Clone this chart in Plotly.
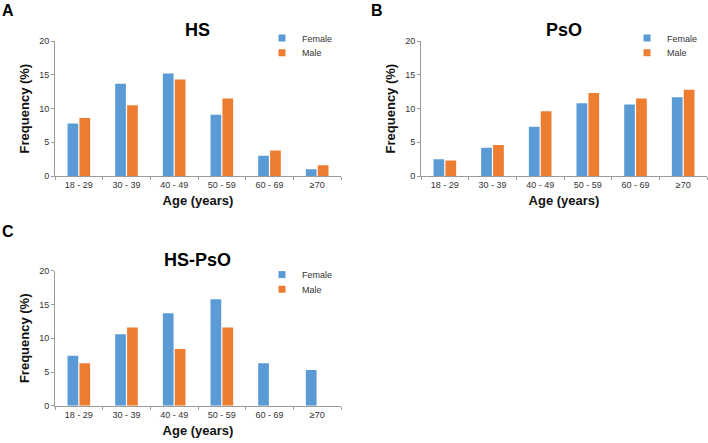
import plotly.graph_objects as go

categories = ["18 - 29", "30 - 39", "40 - 49", "50 - 59", "60 - 69", "≥70"]
hs_female = [7.8, 13.7, 15.2, 9.1, 3.0, 1.0]
hs_male = [8.6, 10.5, 14.3, 11.5, 3.8, 1.6]
pso_female = [2.5, 4.2, 7.3, 10.8, 10.6, 11.7]
pso_male = [2.3, 4.6, 9.6, 12.3, 11.5, 12.8]
hspso_female = [7.4, 10.6, 13.7, 15.8, 6.3, 5.3]
hspso_male = [6.3, 11.6, 8.4, 11.6, 0, 0]

panel_titles = ["HS", "PsO", "HS-PsO"]
panel_letters = ["A", "B", "C"]
series_names = ["Female", "Male"]
colors = ["#5B9BD5", "#ED7D31"]

W, H = 708, 443
FONT = "Arial, Liberation Sans, sans-serif"


def fx(p):
    return p / W


def fy(p):
    return 1 - p / H


# plot areas in pixels: (left, right, top, bottom)
areas = [(55, 341, 37, 175), (421, 707, 37, 175), (55, 341, 272, 410)]
data = [(hs_female, hs_male), (pso_female, pso_male), (hspso_female, hspso_male)]
legend_pos = [(262, 19), (627, 19), (262, 261)]
legend_step = 15
letter_pos = [(0, 6), (369, 6), (0, 232)]

fig = go.Figure()
layout = {}
annotations = []
leg_idx = 0
for i, (area, (fem, mal)) in enumerate(zip(areas, data)):
    sfx = "" if i == 0 else str(i + 1)
    xa, ya = "x" + sfx, "y" + sfx
    for name, vals, col in zip(series_names, (fem, mal), colors):
        fig.add_trace(go.Bar(x=categories, y=vals, name=name, marker=dict(color=col, line=dict(width=0)),
                             xaxis=xa, yaxis=ya, showlegend=False))
    lx, ly = legend_pos[i]
    for j, (name, col) in enumerate(zip(series_names, colors)):
        leg_idx += 1
        lg = "legend" if leg_idx == 1 else "legend" + str(leg_idx)
        fig.add_trace(go.Scatter(x=[None], y=[None], mode="markers", name=name,
                                 marker=dict(symbol="square", size=7, color=col),
                                 xaxis=xa, yaxis=ya, legend=lg, showlegend=True))
        layout[lg] = dict(x=fx(lx), y=fy(ly + j * legend_step), xanchor="left", yanchor="top",
                          bgcolor="rgba(0,0,0,0)", font=dict(size=9, color="#333", family=FONT), borderwidth=0)
    l, r, t, b = area
    layout["xaxis" + sfx] = dict(
        domain=[fx(l), fx(r)], anchor=ya, type="category", range=[-0.5, 5.5],
        showline=True, linecolor="#9a9a9a", linewidth=1, ticks="outside", tickson="boundaries",
        ticklen=3, tickcolor="#9a9a9a", showgrid=False, zeroline=False,
        tickfont=dict(size=9, color="#333", family=FONT),
        title=dict(text="Age (years)", font=dict(size=13, color="#111", family=FONT, weight="bold"), standoff=7),
    )
    layout["yaxis" + sfx] = dict(
        domain=[fy(b), fy(t)], anchor=xa, range=[0, 20], dtick=5,
        showline=True, linecolor="#9a9a9a", linewidth=1, ticks="outside", ticklen=3,
        tickcolor="#9a9a9a", showgrid=False, zeroline=False,
        tickfont=dict(size=9, color="#333", family=FONT),
        title=dict(text="Frequency (%)", font=dict(size=13, color="#111", family=FONT, weight="bold"), standoff=6),
    )
    annotations.append(dict(text=panel_titles[i], x=fx((l + r) / 2), y=fy(t - 11), xref="paper", yref="paper",
                            xanchor="center", yanchor="middle", showarrow=False,
                            font=dict(size=18, color="#000", family=FONT, weight="bold")))
    px_, py_ = letter_pos[i]
    annotations.append(dict(text=panel_letters[i], x=fx(px_), y=fy(py_), xref="paper", yref="paper",
                            xanchor="left", yanchor="middle", showarrow=False,
                            font=dict(size=16, color="#000", family=FONT, weight="bold")))

fig.update_layout(
    width=W, height=H, margin=dict(l=0, r=0, t=0, b=0),
    paper_bgcolor="white", plot_bgcolor="white",
    barmode="group", bargap=0.5, bargroupgap=0.1,
    font=dict(family=FONT),
    annotations=annotations,
    **layout,
)

fig.write_html("out.html", config={"displayModeBar": False},
               post_script="document.body.style.margin='0';document.body.style.overflow='hidden';")
